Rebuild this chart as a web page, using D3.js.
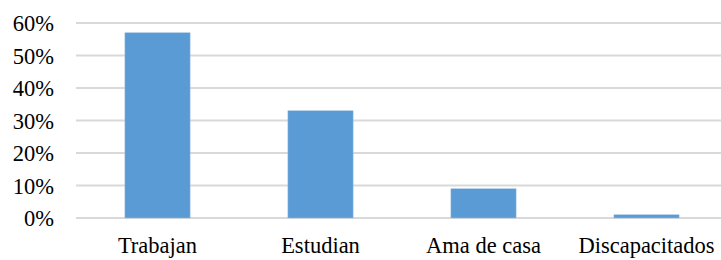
<!DOCTYPE html>
<html>
<head>
<meta charset="utf-8">
<script src="https://cdn.jsdelivr.net/npm/d3@7"></script>
<style>
  body { margin: 0; background: #fff; }
  .chart { width: 721px; height: 260px; }
  text { font-family: "Liberation Serif", "Times New Roman", serif; font-size: 22.5px; fill: #000; }
</style>
</head>
<body>
<div class="chart"></div>
<script>
// data
const categories = ['Trabajan', 'Estudian', 'Ama de casa', 'Discapacitados'];
const values = [0.57, 0.33, 0.09, 0.01];
const yTicks = [0, 0.1, 0.2, 0.3, 0.4, 0.5, 0.6];

const width = 721;
const height = 260;

let svg = d3.select('.chart')
  .append('svg')
  .attr('width', width)
  .attr('height', height);

const x = d3.scaleBand()
  .domain(categories)
  .range([76, 728])
  .paddingInner(0.6)
  .paddingOuter(0.3);

const y = d3.scaleLinear()
  .domain([0, 0.6])
  .range([218, 23]);

// gridlines
svg.append('g')
  .selectAll('line')
  .data(yTicks)
  .join('line')
  .attr('x1', 76)
  .attr('x2', width)
  .attr('y1', d => y(d))
  .attr('y2', d => y(d))
  .style('stroke', '#d9d9d9')
  .style('stroke-width', 2);

// y axis labels
const yAxis = d3.axisLeft(y)
  .tickValues(yTicks)
  .tickFormat(d3.format('.0%'))
  .tickSize(0)
  .tickPadding(0);

svg.append('g')
  .attr('transform', 'translate(54,0)')
  .call(yAxis)
  .attr('font-family', null)
  .attr('font-size', null)
  .call(g => g.select('.domain').remove())
  .call(g => g.selectAll('text')
    .attr('dy', '0.35em')
    .attr('fill', '#000'));

// bars
svg.append('g')
  .selectAll('rect')
  .data(values)
  .join('rect')
  .attr('x', (d, i) => x(categories[i]))
  .attr('y', d => y(d))
  .attr('width', x.bandwidth())
  .attr('height', d => y(0) - y(d))
  .attr('fill', '#5b9bd5')
  .attr('stroke', '#9cc3e6')
  .attr('stroke-width', 0.5);

// x axis labels
const xAxis = d3.axisBottom(x)
  .tickSize(0)
  .tickPadding(0);

svg.append('g')
  .attr('transform', 'translate(0,236)')
  .call(xAxis)
  .attr('font-family', null)
  .attr('font-size', null)
  .call(g => g.select('.domain').remove())
  .call(g => g.selectAll('text')
    .attr('dy', '0.75em')
    .attr('fill', '#000'));
</script>
</body>
</html>
